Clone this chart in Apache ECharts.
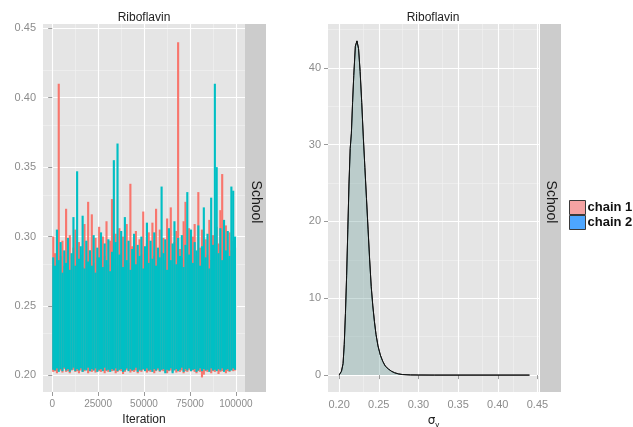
<!DOCTYPE html>
<html><head><meta charset="utf-8">
<script src="https://cdn.jsdelivr.net/npm/echarts@6/dist/echarts.min.js"></script>
<style>html,body{margin:0;padding:0;background:#fff}#c{width:633px;height:427px}</style>
</head><body><div id="c"></div>
<script>
// ---------- data ----------
const panelTitle = 'Riboflavin';
const stripLabel = 'School';
const seriesNames = ['chain 1', 'chain 2'];
const blockSize = 1000; // iterations per trace block

const chain1High = [0.3,0.288,0.281,0.41,0.286,0.297,0.279,0.32,0.284,0.301,0.277,0.292,0.305,0.28,0.296,0.287,0.278,0.309,0.283,0.325,0.29,0.316,0.281,0.299,0.285,0.307,0.279,0.3,0.286,0.311,0.28,0.297,0.327,0.284,0.302,0.279,0.306,0.288,0.3,0.283,0.309,0.281,0.338,0.293,0.285,0.304,0.282,0.298,0.287,0.318,0.28,0.295,0.303,0.284,0.31,0.286,0.32,0.281,0.305,0.289,0.299,0.283,0.313,0.287,0.321,0.28,0.296,0.304,0.44,0.291,0.285,0.311,0.325,0.288,0.306,0.282,0.3,0.309,0.286,0.332,0.292,0.305,0.284,0.298,0.287,0.312,0.283,0.301,0.29,0.307,0.295,0.319,0.345,0.288,0.308,0.284,0.303,0.29,0.297,0.292];
const chain1Low = [0.2025,0.203,0.2015,0.204,0.2035,0.202,0.2045,0.2025,0.203,0.2015,0.2035,0.204,0.2025,0.203,0.2015,0.2035,0.2025,0.203,0.2045,0.2015,0.203,0.2025,0.2035,0.202,0.204,0.203,0.2025,0.2035,0.2015,0.203,0.2025,0.204,0.203,0.2035,0.2015,0.2025,0.2035,0.203,0.201,0.2025,0.204,0.2035,0.202,0.203,0.2025,0.2035,0.2015,0.203,0.2025,0.204,0.2035,0.202,0.203,0.2025,0.2035,0.2015,0.203,0.204,0.2025,0.2035,0.203,0.2025,0.2015,0.203,0.2035,0.2025,0.204,0.202,0.203,0.2025,0.2035,0.2015,0.203,0.2025,0.204,0.203,0.2035,0.2025,0.2015,0.203,0.2025,0.1985,0.2005,0.203,0.2025,0.2035,0.2015,0.203,0.2025,0.2035,0.201,0.2025,0.203,0.2035,0.2015,0.203,0.2025,0.204,0.203,0.2035];
const chain2High = [0.285,0.279,0.305,0.283,0.296,0.274,0.29,0.281,0.299,0.276,0.288,0.314,0.279,0.347,0.284,0.293,0.315,0.277,0.297,0.282,0.29,0.279,0.301,0.274,0.292,0.285,0.303,0.278,0.295,0.283,0.298,0.275,0.289,0.355,0.296,0.367,0.287,0.304,0.278,0.314,0.283,0.297,0.276,0.291,0.302,0.28,0.294,0.286,0.3,0.277,0.293,0.31,0.281,0.297,0.284,0.303,0.279,0.292,0.285,0.336,0.288,0.298,0.276,0.306,0.283,0.295,0.311,0.28,0.299,0.286,0.301,0.278,0.294,0.332,0.287,0.305,0.281,0.296,0.29,0.308,0.279,0.293,0.321,0.285,0.302,0.277,0.328,0.294,0.41,0.35,0.288,0.306,0.283,0.312,0.29,0.304,0.286,0.336,0.333,0.3];
const chain2Low = [0.204,0.2035,0.205,0.2025,0.2045,0.203,0.2055,0.2035,0.2045,0.2025,0.204,0.2055,0.203,0.2045,0.2035,0.205,0.2025,0.204,0.2035,0.2055,0.203,0.2045,0.2035,0.205,0.2025,0.204,0.2045,0.203,0.2055,0.2035,0.204,0.2025,0.2045,0.2035,0.205,0.203,0.204,0.2045,0.2025,0.2035,0.205,0.203,0.2045,0.2035,0.204,0.2055,0.2025,0.204,0.2035,0.2045,0.203,0.205,0.2035,0.204,0.2025,0.2045,0.2035,0.205,0.203,0.204,0.2045,0.2015,0.204,0.2035,0.205,0.2015,0.2035,0.2045,0.203,0.204,0.2055,0.2025,0.2045,0.2035,0.205,0.203,0.204,0.2045,0.2025,0.2035,0.205,0.203,0.2045,0.2035,0.204,0.2025,0.205,0.2035,0.204,0.203,0.2045,0.2035,0.205,0.2025,0.204,0.2045,0.203,0.2035,0.205,0.204];

const traceXTicks = [0, 25000, 50000, 75000, 100000];
const traceXMinor = [12500, 37500, 62500, 87500];
const traceYTicks = [0.20, 0.25, 0.30, 0.35, 0.40, 0.45];
const traceYMinor = [0.225, 0.275, 0.325, 0.375, 0.425];

const densityX = [0.200,0.203,0.205,0.2065,0.208,0.2095,0.211,0.2125,0.214,0.2155,0.217,0.2185,0.2205,0.2225,0.2245,0.2265,0.2285,0.2305,0.2325,0.2345,0.2365,0.2385,0.2405,0.2425,0.2445,0.2465,0.249,0.252,0.255,0.258,0.262,0.266,0.270,0.275,0.280,0.290,0.300,0.320,0.440];
const densityY = [0,0.5,1.5,4,8,13,19,25,29.5,31.5,35.5,39,42.8,43.5,42.5,39.5,35.5,31,27,23,19,15,11.5,9,7,5.3,3.8,2.6,1.8,1.2,0.8,0.5,0.3,0.15,0.07,0.02,0.01,0,0];

const densXTicks = [0.20, 0.25, 0.30, 0.35, 0.40, 0.45];
const densXMinor = [0.225, 0.275, 0.325, 0.375, 0.425];
const densYTicks = [0, 10, 20, 30, 40];
const densYMinor = [5, 15, 25, 35, 45];

// ---------- build ----------
const traceColors = ['#F8766D', '#00BFC4'];
const densityFills = ['rgba(248,118,109,0.2)', 'rgba(0,191,196,0.2)'];
const legendColors = ['#F5A3A3', '#4DA6FF'];
const ranges = {
  traceX: [-5000, 105000], traceY: [0.188, 0.4531],
  densX: [0.186, 0.452], densY: [-2.2, 45.7]
};

function blocks(low, high) { return low.map((l, i) => [i * blockSize, l, high[i]]); }
function pairs(xs, ys) { return xs.map((x, i) => [x, ys[i]]); }

function traceSeries(k) {
  const color = traceColors[k];
  return {
    name: seriesNames[k], type: 'custom', xAxisIndex: 0, yAxisIndex: 0, zlevel: 1, z: 3 + k,
    data: blocks(k === 0 ? chain1Low : chain2Low, k === 0 ? chain1High : chain2High),
    encode: { x: 0, y: [1, 2] },
    itemStyle: { color: color },
    renderItem: function (params, api) {
      const pLow = api.coord([api.value(0), api.value(1)]);
      const pHigh = api.coord([api.value(0), api.value(2)]);
      const w = api.size([blockSize, 0])[0];
      return { type: 'rect', shape: { x: pLow[0], y: pHigh[1], width: w + 0.3, height: pLow[1] - pHigh[1] }, style: { fill: color, stroke: null, lineWidth: 0 } };
    }
  };
}

// minor grid lines, drawn beneath the data layer
function minorGrid(xi, yi, xMin, yMin) {
  const st = { color: '#F2F2F2', width: 0.6, type: 'solid' };
  const d = xMin.map(v => ({ xAxis: v, lineStyle: st })).concat(yMin.map(v => ({ yAxis: v, lineStyle: st })));
  return {
    type: 'line', xAxisIndex: xi, yAxisIndex: yi, data: [], zlevel: 0, z: 1, silent: true,
    markLine: { zlevel: 0, z: 1, silent: true, symbol: ['none', 'none'], label: { show: false }, animation: false, data: d }
  };
}

const tickLabel = { color: '#8c8c8c', fontFamily: 'Liberation Sans' };
const tickStyle = { show: true, length: 4, lineStyle: { color: '#9a9a9a', width: 1 } };
const nameStyle = { color: '#222', fontSize: 12, fontFamily: 'Liberation Sans' };
const majorLine = { show: true, lineStyle: { color: '#FFFFFF', width: 1.1 } };

function mainAxis(grid, range, ticks, labelExtra, extra) {
  return Object.assign({
    type: 'value', gridIndex: grid, min: range[0], max: range[1], z: 2,
    axisLine: { show: false },
    axisTick: Object.assign({ customValues: ticks }, tickStyle),
    axisLabel: Object.assign({ customValues: ticks, margin: 7, fontSize: 11 }, tickLabel, labelExtra),
    splitLine: majorLine
  }, extra || {});
}

const chart = echarts.init(document.getElementById('c'), null, { renderer: 'canvas' });
chart.setOption({
  animation: false,
  backgroundColor: '#ffffff',
  grid: [
    { left: 43, top: 24, width: 202, height: 368, show: true, backgroundColor: '#E5E5E5', borderWidth: 0, containLabel: false, outerBoundsMode: 'none' },
    { left: 328, top: 24, width: 211, height: 368, show: true, backgroundColor: '#E5E5E5', borderWidth: 0, containLabel: false, outerBoundsMode: 'none' }
  ],
  xAxis: [
    mainAxis(0, ranges.traceX, traceXTicks, { fontSize: 10, formatter: v => String(v) },
      { name: 'Iteration', nameLocation: 'middle', nameGap: 22, nameTextStyle: nameStyle }),
    mainAxis(1, ranges.densX, densXTicks, { formatter: v => v.toFixed(2) },
      { name: '{a|σ}{b|y}', nameLocation: 'middle', nameGap: 21,
        nameTextStyle: { rich: { a: { fontSize: 12, color: '#222', fontFamily: 'DejaVu Sans' }, b: { fontSize: 8, color: '#222', padding: [7, 0, 0, 0] } } } })
  ],
  yAxis: [
    mainAxis(0, ranges.traceY, traceYTicks, { formatter: v => v.toFixed(2) }),
    mainAxis(1, ranges.densY, densYTicks, {})
  ],
  legend: {
    orient: 'vertical', left: 564, top: 195, itemWidth: 16, itemHeight: 14, itemGap: 0,
    selectedMode: false,
    textStyle: { fontWeight: 'bold', fontSize: 13, color: '#111', fontFamily: 'Liberation Sans', lineHeight: 14, padding: [0, 0, 0, -3] },
    data: seriesNames.map((n, i) => ({
      name: n, icon: 'rect',
      itemStyle: { color: legendColors[i], borderColor: '#3a3a3a', borderWidth: 1 },
      lineStyle: { width: 0, opacity: 0 }
    }))
  },
  graphic: [
    { type: 'text', x: 144, y: 18, style: { text: panelTitle, align: 'center', verticalAlign: 'middle', fontSize: 12, fill: '#222', fontFamily: 'Liberation Sans' } },
    { type: 'text', x: 433, y: 18, style: { text: panelTitle, align: 'center', verticalAlign: 'middle', fontSize: 12, fill: '#222', fontFamily: 'Liberation Sans' } },
    { type: 'rect', shape: { x: 245, y: 24, width: 21, height: 368 }, style: { fill: '#CCCCCC' } },
    { type: 'rect', shape: { x: 540, y: 24, width: 21, height: 368 }, style: { fill: '#CCCCCC' } },
    { type: 'text', x: 255.5, y: 202, rotation: -Math.PI / 2, style: { text: stripLabel, align: 'center', verticalAlign: 'middle', fontSize: 14, fill: '#1a1a1a', fontFamily: 'Liberation Sans' } },
    { type: 'text', x: 550.5, y: 202, rotation: -Math.PI / 2, style: { text: stripLabel, align: 'center', verticalAlign: 'middle', fontSize: 14, fill: '#1a1a1a', fontFamily: 'Liberation Sans' } }
  ],
  series: [
    minorGrid(0, 0, traceXMinor, traceYMinor),
    minorGrid(1, 1, densXMinor, densYMinor),
    traceSeries(0),
    traceSeries(1),
    { name: seriesNames[0], type: 'line', xAxisIndex: 1, yAxisIndex: 1, zlevel: 1, z: 3, showSymbol: false, symbol: 'none',
      data: pairs(densityX, densityY), lineStyle: { color: '#111', width: 1 }, itemStyle: { color: traceColors[0] },
      areaStyle: { color: densityFills[0], opacity: 1 } },
    { name: seriesNames[1], type: 'line', xAxisIndex: 1, yAxisIndex: 1, zlevel: 1, z: 4, showSymbol: false, symbol: 'none',
      data: pairs(densityX, densityY), lineStyle: { color: '#111', width: 1 }, itemStyle: { color: traceColors[1] },
      areaStyle: { color: densityFills[1], opacity: 1 } }
  ]
});
</script>
</body></html>
